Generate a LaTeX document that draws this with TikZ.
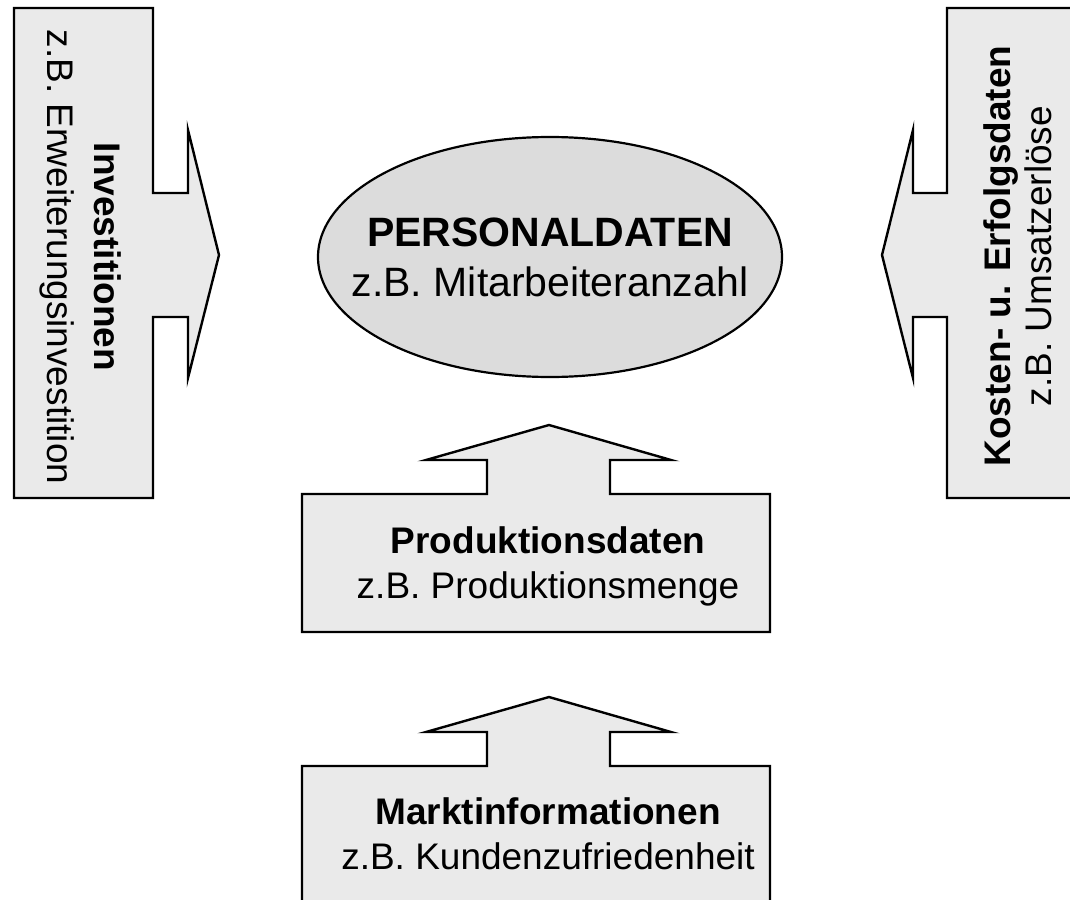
\documentclass[tikz,border=0pt]{standalone}
\usepackage{fontspec}
\setmainfont{Liberation Sans}
\usetikzlibrary{shapes.geometric}
\definecolor{boxfill}{HTML}{EAEAEA}
\definecolor{ovalfill}{HTML}{DCDCDC}
\begin{document}
\begin{tikzpicture}[x=1pt,y=-1pt,
  shapeline/.style={draw=black, line width=2.4pt, line join=miter, fill=boxfill},
  boxtxt/.style={font=\fontsize{37}{45}\selectfont, align=center, inner sep=0pt},
  ovaltxt/.style={font=\fontsize{41}{50}\selectfont, align=center, inner sep=0pt}]
\useasboundingbox (0,0) rectangle (1070,899);
\clip (0,0) rectangle (1070,899);

% left block with arrow pointing right
\path[shapeline] (14,8) -- (153,8) -- (153,193) -- (188,193) -- (188,130)
  -- (219,255) -- (188,378) -- (188,317) -- (153,317) -- (153,498)
  -- (14,498) -- cycle;
% right block with arrow pointing left
\path[shapeline] (1080,8) -- (947,8) -- (947,193) -- (913,193) -- (913,130)
  -- (882,255) -- (913,378) -- (913,317) -- (947,317) -- (947,498)
  -- (1080,498) -- cycle;
% middle block with arrow pointing up
\path[shapeline] (302,632) -- (302,494) -- (487,494) -- (487,460) -- (426,460)
  -- (549,425) -- (671,460) -- (610,460) -- (610,494) -- (770,494)
  -- (770,632) -- cycle;
% lower block with arrow pointing up
\path[shapeline] (302,910) -- (302,766) -- (487,766) -- (487,732) -- (426,732)
  -- (549,697) -- (671,732) -- (610,732) -- (610,766) -- (770,766)
  -- (770,910) -- cycle;

% central oval
\node[draw=black, line width=2.2pt, fill=ovalfill, ellipse,
      minimum width=464pt, minimum height=240pt, inner sep=0pt] (pers) at (550,257) {};
\node[ovaltxt] (perstxt) at (550,257) {\textbf{PERSONALDATEN}\\z.B. Mitarbeiteranzahl};

% block labels
\node[boxtxt, rotate=-90] (inv) at (81,257)
  {\textbf{Investitionen}\\[2pt]z.B. Erweiterungsinvestition};
\node[boxtxt, rotate=90] (kost) at (1018,256)
  {\textbf{Kosten- u. Erfolgsdaten}\\[-4pt]z.B. Umsatzerlöse};
\node[boxtxt] (prod) at (548,566)
  {\textbf{Produktionsdaten}\\z.B. Produktionsmenge};
\node[boxtxt] (markt) at (548,834)
  {\textbf{Marktinformationen}\\z.B. Kundenzufriedenheit};
\end{tikzpicture}
\end{document}
